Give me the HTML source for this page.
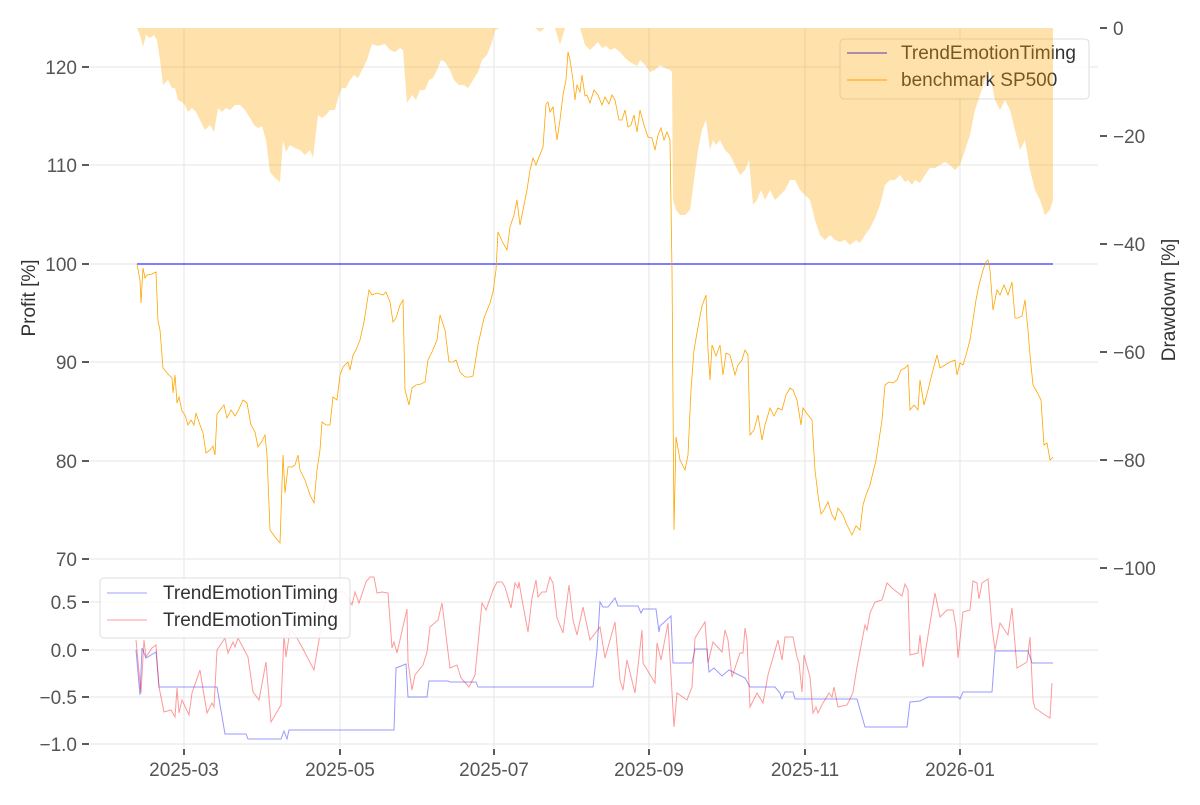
<!DOCTYPE html>
<html><head><meta charset="utf-8"><style>
body{margin:0;background:#fff;}
svg text{font-family:"Liberation Sans",sans-serif;}
</style></head><body>
<svg width="1200" height="800" viewBox="0 0 1200 800" xmlns="http://www.w3.org/2000/svg">
<rect width="1200" height="800" fill="#fff"/>
<g stroke="#e5e5e5" stroke-width="1">
<line x1="90" y1="67" x2="1098" y2="67"/><line x1="90" y1="165" x2="1098" y2="165"/>
<line x1="90" y1="264" x2="1098" y2="264"/><line x1="90" y1="362" x2="1098" y2="362"/>
<line x1="90" y1="461" x2="1098" y2="461"/><line x1="90" y1="559" x2="1098" y2="559"/>
<line x1="184" y1="28" x2="184" y2="559"/><line x1="340" y1="28" x2="340" y2="559"/>
<line x1="494" y1="28" x2="494" y2="559"/><line x1="649" y1="28" x2="649" y2="559"/>
<line x1="805" y1="28" x2="805" y2="559"/><line x1="960" y1="28" x2="960" y2="559"/>
<line x1="90" y1="602" x2="1098" y2="602"/><line x1="90" y1="650" x2="1098" y2="650"/>
<line x1="90" y1="697" x2="1098" y2="697"/><line x1="90" y1="744" x2="1098" y2="744"/>
<line x1="184" y1="560" x2="184" y2="748"/><line x1="340" y1="560" x2="340" y2="748"/>
<line x1="494" y1="560" x2="494" y2="748"/><line x1="649" y1="560" x2="649" y2="748"/>
<line x1="805" y1="560" x2="805" y2="748"/><line x1="960" y1="560" x2="960" y2="748"/>
</g>
<g stroke="#222" stroke-width="1.5">
<line x1="82" y1="67" x2="89" y2="67"/><line x1="82" y1="165" x2="89" y2="165"/>
<line x1="82" y1="264" x2="89" y2="264"/><line x1="82" y1="362" x2="89" y2="362"/>
<line x1="82" y1="461" x2="89" y2="461"/><line x1="82" y1="559" x2="89" y2="559"/>
<line x1="82" y1="602" x2="89" y2="602"/><line x1="82" y1="650" x2="89" y2="650"/>
<line x1="82" y1="697" x2="89" y2="697"/><line x1="82" y1="744" x2="89" y2="744"/>
<line x1="1100" y1="28" x2="1107" y2="28"/><line x1="1100" y1="136" x2="1107" y2="136"/>
<line x1="1100" y1="244" x2="1107" y2="244"/><line x1="1100" y1="352" x2="1107" y2="352"/>
<line x1="1100" y1="460" x2="1107" y2="460"/><line x1="1100" y1="568" x2="1107" y2="568"/>
<line x1="184" y1="749" x2="184" y2="755"/><line x1="340" y1="749" x2="340" y2="755"/>
<line x1="494" y1="749" x2="494" y2="755"/><line x1="649" y1="749" x2="649" y2="755"/>
<line x1="805" y1="749" x2="805" y2="755"/><line x1="960" y1="749" x2="960" y2="755"/>
</g>
<g fill="#555" font-size="19" text-anchor="end">
<text x="77" y="74">120</text><text x="77" y="172">110</text><text x="77" y="271">100</text>
<text x="77" y="369">90</text><text x="77" y="468">80</text><text x="77" y="566">70</text>
<text x="77" y="609">0.5</text><text x="77" y="657">0.0</text><text x="77" y="704">−0.5</text><text x="77" y="751">−1.0</text>
</g>
<g fill="#555" font-size="19">
<text x="1113" y="35">0</text><text x="1113" y="143">−20</text><text x="1113" y="251">−40</text>
<text x="1113" y="359">−60</text><text x="1113" y="467">−80</text><text x="1113" y="575">−100</text>
</g>
<g fill="#555" font-size="19" text-anchor="middle">
<text x="184" y="776">2025-03</text><text x="340" y="776">2025-05</text><text x="494" y="776">2025-07</text>
<text x="649" y="776">2025-09</text><text x="805" y="776">2025-11</text><text x="960" y="776">2026-01</text>
</g>
<text transform="translate(35,298) rotate(-90)" text-anchor="middle" font-size="19" fill="#333">Profit [%]</text>
<text transform="translate(1175,300) rotate(-90)" text-anchor="middle" font-size="19" fill="#333">Drawdown [%]</text>

<rect x="840" y="39" width="249" height="60" rx="4" fill="#fff" fill-opacity="0.85" stroke="#ddd"/>
<line x1="847" y1="53" x2="887" y2="53" stroke="#0000ff" stroke-width="1"/>
<line x1="847" y1="80" x2="887" y2="80" stroke="#ffa500" stroke-width="1"/>
<text x="901" y="59" font-size="19" fill="#333">TrendEmotionTiming</text>
<text x="901" y="86" font-size="19" fill="#333">benchmark SP500</text>

<polygon fill="#ffa500" fill-opacity="0.33" points="137,28 140,35 143,47 146,35 150,38 154,35 157,40 160,60 163,85 168,80 172,88 175,88 178,100 182,102 185,105 188,112 192,108 196,112 200,120 205,130 210,125 214,132 218,108 222,112 226,108 230,110 235,105 240,105 245,110 250,118 254,125 258,128 262,126 266,140 270,172 275,178 280,182 283,140 286,152 290,145 295,148 300,150 305,155 310,150 313,158 318,115 322,118 326,115 330,110 335,110 338,98 342,88 346,88 350,80 354,75 358,78 362,70 367,60 372,44 378,46 385,44 390,50 395,52 400,48 403,50 407,103 412,95 416,100 420,90 425,90 429,80 433,78 437,70 441,60 445,62 450,70 454,80 459,85 464,85 468,88 473,80 478,72 482,60 487,55 492,42 495,30 500,28 535,28 540,32 545,28 555,28 560,45 565,28 580,28 585,45 590,50 598,42 602,48 606,46 610,50 615,48 620,52 625,58 630,62 637,66 640,60 645,65 650,72 655,70 660,65 665,68 670,70 672,72 673,200 676,210 680,215 685,215 690,210 694,180 698,150 702,130 706,120 710,150 713,140 716,145 720,140 725,150 730,155 735,165 740,175 745,170 749,160 753,205 757,200 761,190 765,200 770,190 775,200 780,195 785,190 790,180 795,180 800,190 805,195 810,200 815,220 820,235 825,240 830,235 835,240 840,242 845,240 850,245 856,240 860,243 865,235 870,228 875,218 880,205 885,185 890,180 895,180 900,175 905,182 908,180 912,185 915,180 920,183 925,175 930,168 935,168 940,165 945,162 950,165 955,170 960,165 965,150 970,135 975,110 980,95 985,80 990,70 993,90 995,100 1000,110 1005,100 1010,110 1015,130 1020,150 1025,140 1030,170 1035,190 1040,200 1045,215 1050,210 1053,200 1053,28"/>

<line x1="137" y1="264" x2="1053" y2="264" stroke="#0000ff" stroke-width="1"/>
<polyline fill="none" stroke="#ffa500" stroke-width="0.8" points="137,264 140,280 141,303 143,268 145,278 147,275 152,274 156,272 158,321 160,330 163,368 168,374 172,378 173,393 175,375 177,403 179,397 182,411 185,415 188,425 191,420 194,425 196,413 200,425 203,433 206,453 210,450 213,446 215,455 217,414 220,410 224,405 227,418 231,410 235,416 238,411 243,400 247,403 251,425 255,432 258,447 262,441 265,435 267,455 270,530 275,537 280,543 283,455 285,493 288,467 292,467 295,465 298,455 300,470 305,480 310,495 314,503 317,470 320,450 322,422 326,425 330,425 333,397 337,400 340,375 343,367 348,362 350,370 353,355 356,350 360,340 364,322 369,290 372,295 377,293 383,295 386,292 390,302 393,322 396,318 400,305 403,300 405,390 409,405 412,388 416,385 421,384 425,382 428,360 432,352 437,340 440,315 445,330 449,362 453,362 456,360 460,372 465,377 470,377 473,376 478,345 484,318 490,303 493,292 496,270 498,232 503,243 507,250 510,227 514,215 517,200 520,225 523,210 527,190 530,170 533,158 536,165 539,157 543,147 546,104 548,102 550,112 553,107 557,140 560,120 563,95 566,80 568,52 570,60 573,80 575,100 577,85 580,92 582,75 585,96 587,95 590,103 594,90 598,95 602,105 605,97 609,104 612,95 615,100 619,120 622,120 625,110 628,127 631,125 634,115 637,132 640,110 644,125 648,137 652,138 655,150 658,135 661,128 664,140 667,132 670,140 672,270 674,530 676,437 680,460 685,470 688,455 691,390 694,350 698,327 702,306 706,295 708,350 710,380 712,345 716,356 720,345 723,375 726,353 730,355 735,375 738,365 742,360 745,350 748,355 750,435 754,430 758,415 762,440 765,425 770,408 774,416 778,408 782,410 786,395 790,388 793,390 797,400 801,425 803,408 808,415 812,420 815,470 818,495 821,514 824,510 828,502 832,515 835,520 838,508 843,515 847,525 852,535 856,526 860,530 863,505 866,495 870,485 876,460 882,420 885,385 889,382 893,383 897,380 901,370 905,368 908,365 910,410 914,405 918,410 920,380 924,405 928,390 933,370 937,355 940,368 945,365 950,362 955,360 957,375 960,363 963,365 966,355 970,340 973,320 976,300 979,285 983,270 986,262 988,260 990,270 993,310 997,290 1000,295 1004,285 1008,295 1012,282 1015,318 1018,318 1022,316 1025,300 1028,330 1030,355 1033,385 1037,392 1041,400 1044,445 1047,443 1050,460 1053,457"/>

<polyline fill="none" stroke="#0000ff" stroke-opacity="0.4" stroke-width="1" points="136,650 140,695 142,648 146,658 156,652 159,687 217,687 225,734 246,734 248,739 281,739 284,731 287,739 289,730 394,730 396,668 406,664 408,697 427,697 429,681 448,681 450,682 476,682 478,687 593,687 597,650 600,602 603,607 608,607 615,598 618,606 638,606 641,613 643,609 656,609 659,632 660,626 671,616 673,663 692,663 695,649 707,649 709,672 714,668 722,676 729,670 745,678 750,687 775,687 780,693 782,699 785,692 793,692 795,699 857,699 865,727 907,727 910,702 920,701 928,697 958,697 960,699 963,692 992,692 995,651 1028,651 1032,663 1053,663"/>
<polyline fill="none" stroke="#ff0000" stroke-opacity="0.4" stroke-width="1" points="136,640 141,693 144,640 146,657 152,648 156,645 159,687 164,712 171,710 175,717 177,688 179,713 182,700 189,715 192,693 200,670 202,683 207,713 212,703 214,707 217,650 225,638 228,653 233,642 235,647 238,638 248,657 253,692 259,700 266,662 271,722 281,705 284,635 286,657 290,630 294,633 302,647 314,670 319,640 325,603 330,593 336,592 344,592 352,605 355,592 359,603 366,582 370,577 374,577 377,593 382,592 388,593 392,648 394,642 397,653 407,609 408,662 412,690 415,675 423,665 427,652 430,627 438,620 442,603 450,668 457,665 461,678 469,687 475,675 482,603 486,610 493,590 497,582 502,582 505,587 511,608 515,583 518,588 519,582 523,605 528,632 532,598 536,580 538,597 542,592 546,592 550,577 553,583 557,618 563,633 569,585 573,620 577,635 583,607 590,640 600,627 605,658 615,622 620,680 623,690 627,660 635,693 642,630 643,663 655,683 657,643 661,660 668,623 674,727 677,693 687,700 692,687 695,638 705,622 708,663 713,642 722,652 725,630 728,640 732,677 740,653 743,653 745,628 747,640 750,707 757,693 763,703 768,675 778,640 782,660 785,637 793,637 797,657 799,663 802,692 804,655 810,677 813,713 816,707 818,713 823,703 829,693 832,697 834,687 838,707 847,705 851,697 853,692 857,667 865,625 867,630 870,613 875,602 882,600 887,583 892,588 902,596 905,584 908,590 910,655 918,653 920,635 923,667 930,623 935,593 940,617 947,610 953,610 956,627 958,658 963,612 970,610 973,581 977,583 979,599 982,583 988,579 992,627 995,650 1000,623 1008,635 1012,608 1017,668 1027,662 1030,637 1033,700 1035,708 1045,715 1050,718 1052,683"/>

<rect x="100" y="578" width="250" height="60" rx="4" fill="#fff" fill-opacity="0.85" stroke="#ddd"/>
<line x1="107" y1="593" x2="147" y2="593" stroke="#0000ff" stroke-opacity="0.3" stroke-width="1.2"/>
<line x1="107" y1="620" x2="147" y2="620" stroke="#ff0000" stroke-opacity="0.3" stroke-width="1.2"/>
<text x="163" y="599" font-size="19" fill="#333">TrendEmotionTiming</text>
<text x="163" y="626" font-size="19" fill="#333">TrendEmotionTiming</text>
</svg>
</body></html>
